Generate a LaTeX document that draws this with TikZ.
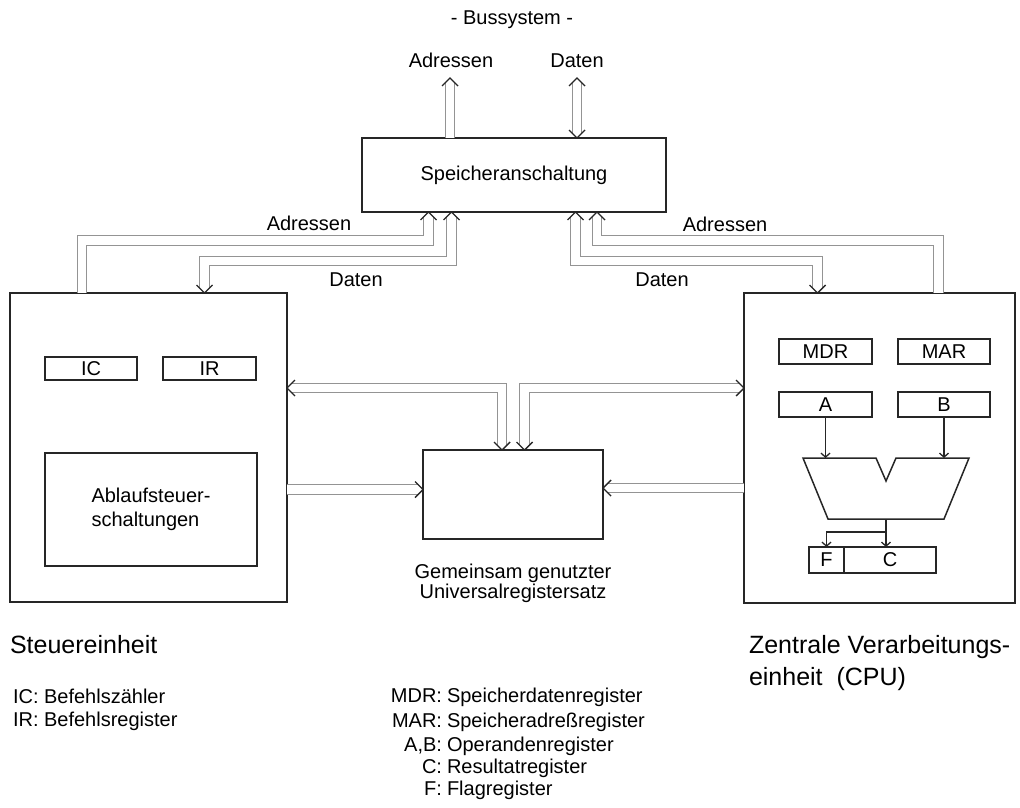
\documentclass[tikz,border=0pt]{standalone}
\usepackage{fontspec}
\setmainfont{Liberation Sans}
\usetikzlibrary{arrows.meta}
\tikzset{
  every node/.style={font=\fontsize{20}{24}\selectfont, inner sep=0pt, outer sep=0pt},
  bigtxt/.style={font=\fontsize{25}{30}\selectfont},
  box/.style={draw=black!85, line width=1.5pt, inner sep=0pt},
  bus/.style={draw=black!42, line width=1.2pt, double=white, double distance=8.5pt, line join=miter},
  sarrow/.style={draw=black!85, line width=1.3pt, -{Straight Barb[length=4pt,width=9pt]}},
  chev/.pic={\draw[draw=black!85, line width=1.4pt, line join=miter] (-8pt,-8pt) -- (0pt,0pt) -- (8pt,-8pt);}
}
\begin{document}
\begin{tikzpicture}[x=1pt,y=-1pt]
\useasboundingbox (0,0) rectangle (1020,808);

% main boxes
\node[box, anchor=north west, minimum width=304pt, minimum height=74pt] (spk) at (362,138) {Speicheranschaltung};
\node[box, anchor=north west, minimum width=277pt, minimum height=309pt] (lb) at (10,293) {};
\node[box, anchor=north west, minimum width=271pt, minimum height=310pt] (rb) at (744,293) {};
\node[box, anchor=north west, minimum width=180pt, minimum height=89pt] (ur) at (423,450) {};

% control unit contents
\node[box, anchor=north west, minimum width=92pt, minimum height=23pt] (ic) at (45,357) {IC};
\node[box, anchor=north west, minimum width=93pt, minimum height=23pt] (ir) at (163,357) {IR};
\node[box, anchor=north west, minimum width=212pt, minimum height=113pt, align=left] (abl) at (45,453) {Ablaufsteuer-\\schaltungen};

% CPU contents
\node[box, anchor=north west, minimum width=93pt, minimum height=25pt] (mdr) at (779,339) {MDR};
\node[box, anchor=north west, minimum width=92pt, minimum height=25pt] (mar) at (898,339) {MAR};
\node[box, anchor=north west, minimum width=93pt, minimum height=25pt] (ra) at (779,392) {A};
\node[box, anchor=north west, minimum width=92pt, minimum height=25pt] (rbb) at (898,392) {B};
\node[box, anchor=north west, minimum width=35pt, minimum height=26pt] (fr) at (809,547) {F};
\node[box, anchor=north west, minimum width=92pt, minimum height=26pt] (cr) at (844,547) {C};

% ALU
\draw[box, line join=miter] (803,458) -- (876,458) -- (886,481) -- (896,458) -- (969,458) -- (944,519) -- (828,519) -- cycle;
\coordinate (aluA) at (825.5,458);
\coordinate (aluB) at (944,458);
\coordinate (aluO) at (886,519);
\draw[sarrow] (ra.south) -- (aluA);
\draw[sarrow] (rbb.south) -- (aluB);
\draw[sarrow] (aluO) -- (cr.north -| aluO);
\draw[sarrow] (886,532) -| (fr.north);

% bus: top
\coordinate (adr) at (450,78);
\coordinate (dat) at (577,78);
\draw[bus, shorten >=5pt] (spk.north -| adr) -- (adr);
\draw[bus, shorten >=5pt, shorten <=5pt] (spk.north -| dat) -- (dat);
\pic at (adr) {chev};
\pic at (dat) {chev};
\pic[rotate=180] at (spk.north -| dat) {chev};

% left Adressen / Daten
\draw[bus, shorten >=5pt] (lb.north -| 82,0) |- (428.5,240.5) -- (spk.south -| 428.5,0);
\pic at (spk.south -| 428.5,0) {chev};
\draw[bus, shorten >=5pt, shorten <=5pt] (lb.north -| 204.5,0) |- (451.5,261) -- (spk.south -| 451.5,0);
\pic at (spk.south -| 451.5,0) {chev};
\pic[rotate=180] at (lb.north -| 204.5,0) {chev};

% right Adressen / Daten
\draw[bus, shorten >=5pt] (rb.north -| 938.5,0) |- (597,240.5) -- (spk.south -| 597,0);
\pic at (spk.south -| 597,0) {chev};
\draw[bus, shorten >=5pt, shorten <=5pt] (rb.north -| 817.5,0) |- (575.5,261) -- (spk.south -| 575.5,0);
\pic at (spk.south -| 575.5,0) {chev};
\pic[rotate=180] at (rb.north -| 817.5,0) {chev};

% register set connections
\draw[bus, shorten >=5pt, shorten <=5pt] (lb.east |- 0,388) -| (ur.north -| 502,0);
\pic[rotate=90] at (lb.east |- 0,388) {chev};
\pic[rotate=180] at (ur.north -| 502,0) {chev};
\draw[bus, shorten >=5pt, shorten <=5pt] (rb.west |- 0,388) -| (ur.north -| 524.5,0);
\pic[rotate=-90] at (rb.west |- 0,388) {chev};
\pic[rotate=180] at (ur.north -| 524.5,0) {chev};
\draw[bus, shorten >=5pt] (lb.east |- 0,489.5) -- (ur.west |- 0,489.5);
\pic[rotate=-90] at (ur.west |- 0,489.5) {chev};
\draw[bus, shorten >=5pt] (rb.west |- 0,488) -- (ur.east |- 0,488);
\pic[rotate=90] at (ur.east |- 0,488) {chev};

% labels
\node[anchor=base] (title) at (512,25) {- Bussystem -};
\node[anchor=base] (tadr) at (451,67) {Adressen};
\node[anchor=base] (tdat) at (577,67) {Daten};
\node[anchor=base] (ladr) at (309,230) {Adressen};
\node[anchor=base] (ldat) at (356,286) {Daten};
\node[anchor=base] (radr) at (725,231) {Adressen};
\node[anchor=base] (rdat) at (662,286) {Daten};
\node[anchor=base] (ur1) at (513,578) {Gemeinsam genutzter};
\node[anchor=base] (ur2) at (513,598) {Universalregistersatz};

\node[bigtxt, anchor=base west] (steu) at (10,653) {Steuereinheit};
\node[anchor=base west] (lic) at (13,703) {IC: Befehlszähler};
\node[anchor=base west] (lir) at (13,726) {IR: Befehlsregister};

\node[bigtxt, anchor=base west] (cpu1) at (749,653) {Zentrale Verarbeitungs-};
\node[bigtxt, anchor=base west] (cpu2) at (749,685) {einheit\ \ (CPU)};

\node[anchor=base east] (k1) at (442,702) {MDR:};
\node[anchor=base west] (d1) at (447,702) {Speicherdatenregister};
\node[anchor=base east] (k2) at (442,727) {MAR:};
\node[anchor=base west] (d2) at (447,727) {Speicheradreßregister};
\node[anchor=base east] (k3) at (442,751) {A,B:};
\node[anchor=base west] (d3) at (447,751) {Operandenregister};
\node[anchor=base east] (k4) at (442,773) {C:};
\node[anchor=base west] (d4) at (447,773) {Resultatregister};
\node[anchor=base east] (k5) at (442,795) {F:};
\node[anchor=base west] (d5) at (447,795) {Flagregister};
\end{tikzpicture}
\end{document}
